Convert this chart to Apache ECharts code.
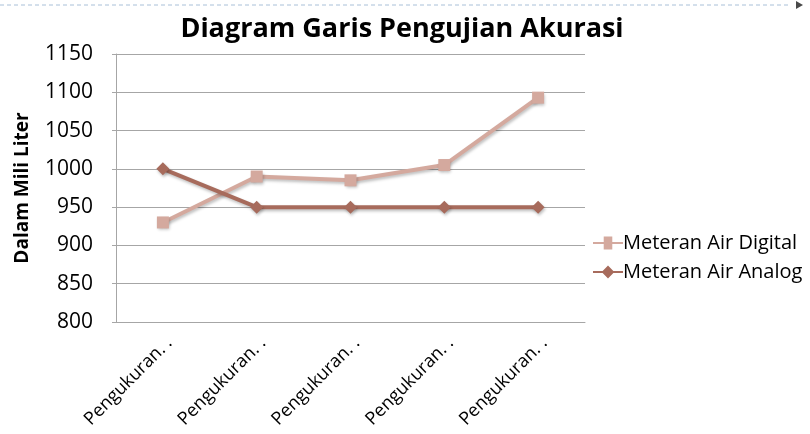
<!DOCTYPE html>
<html>
<head>
<meta charset="utf-8">
<script src="https://cdn.jsdelivr.net/npm/echarts@6/dist/echarts.min.js"></script>
<style>
  html, body { margin: 0; padding: 0; background: #fff; }
  #chart { width: 810px; height: 434px; }
</style>
</head>
<body>
<div id="chart"></div>
<script>
  // data
  var categories = ['Pengukuran 1', 'Pengukuran 2', 'Pengukuran 3', 'Pengukuran 4', 'Pengukuran 5'];
  var digitalValues = [930, 990, 985, 1005, 1093];
  var analogValues = [1000, 950, 950, 950, 950];

  var chart = echarts.init(document.getElementById('chart'));
  var font = '"Open Sans", Lato, sans-serif';

  var option = {
    animation: false,
    backgroundColor: '#ffffff',
    title: {
      text: 'Diagram Garis Pengujian Akurasi',
      left: 397,
      top: 11,
      textAlign: 'center',
      textStyle: { fontFamily: font, fontSize: 27, fontWeight: 'bold', color: '#000' }
    },
    graphic: [{
      type: 'line',
      shape: { x1: 0, y1: 5, x2: 790, y2: 5 },
      style: { stroke: '#a9c0d8', lineWidth: 1, lineDash: [4, 3] }
    }, {
      type: 'polygon',
      shape: { points: [[796, 1], [803, 5], [796, 9]] },
      style: { fill: '#4a4a4a' }
    }],
    legend: {
      orient: 'vertical',
      left: 588,
      top: 228,
      itemGap: 9,
      itemWidth: 30,
      itemHeight: 13,
      textStyle: { fontFamily: font, fontSize: 20, color: '#000', padding: [0, 0, 0, -5] },
      data: [
        { name: 'Meteran Air Digital', icon: 'path://M0,5 L10,5 L10,0 L18,0 L18,5 L28,5 L28,7 L18,7 L18,12 L10,12 L10,7 L0,7 Z' },
        { name: 'Meteran Air Analog', icon: 'path://M0,5 L9,5 L14,0 L19,5 L28,5 L28,7 L19,7 L14,12 L9,7 L0,7 Z' }
      ]
    },
    grid: { left: 116, right: 225, top: 54, bottom: 112 },
    xAxis: {
      type: 'category',
      data: categories,
      boundaryGap: true,
      axisLine: { show: true, lineStyle: { color: '#a6a6a6' } },
      axisTick: { show: false },
      axisLabel: {
        rotate: 45,
        interval: 0,
        margin: 12,
        verticalAlign: 'top',
        fontFamily: font,
        fontSize: 18,
        color: '#000',
        formatter: function (v) { return v.split(' ')[0] + '. .'; }
      }
    },
    yAxis: {
      type: 'value',
      min: 800,
      max: 1150,
      interval: 50,
      name: 'Dalam Mili Liter',
      nameLocation: 'middle',
      nameGap: 84,
      nameTextStyle: { fontFamily: font, fontSize: 19, fontWeight: 'bold', color: '#000' },
      axisLine: { show: true, lineStyle: { color: '#a6a6a6' } },
      axisTick: { show: true, length: 4, lineStyle: { color: '#a6a6a6' } },
      axisLabel: {
        fontFamily: font, fontSize: 21, color: '#000', margin: 23,
        formatter: function (v) { return String(v); }
      },
      splitLine: { show: true, lineStyle: { color: '#a6a6a6', width: 1 } }
    },
    series: [{
      name: 'Meteran Air Digital',
      type: 'line',
      data: digitalValues,
      symbol: 'rect',
      symbolSize: 12,
      lineStyle: { width: 4, color: '#d4a99e', shadowColor: 'rgba(0,0,0,0.25)', shadowBlur: 3, shadowOffsetX: 1, shadowOffsetY: 2 },
      itemStyle: { color: '#d4a99e', shadowColor: 'rgba(0,0,0,0.25)', shadowBlur: 3, shadowOffsetX: 1, shadowOffsetY: 2 }
    }, {
      name: 'Meteran Air Analog',
      type: 'line',
      data: analogValues,
      symbol: 'diamond',
      symbolSize: 13,
      lineStyle: { width: 4, color: '#a76b5c', shadowColor: 'rgba(0,0,0,0.25)', shadowBlur: 3, shadowOffsetX: 1, shadowOffsetY: 2 },
      itemStyle: { color: '#a76b5c', shadowColor: 'rgba(0,0,0,0.25)', shadowBlur: 3, shadowOffsetX: 1, shadowOffsetY: 2 }
    }]
  };

  chart.setOption(option);
</script>
</body>
</html>
